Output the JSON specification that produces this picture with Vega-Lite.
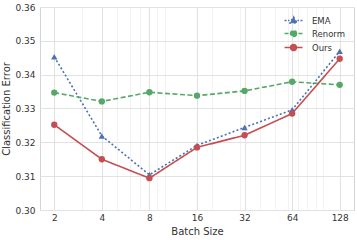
{
  "$schema": "https://vega.github.io/schema/vega-lite/v6.json",
  "width": 314,
  "height": 203,
  "autosize": "none",
  "padding": {"left": 40, "top": 7, "right": 3, "bottom": 30},
  "config": {
    "view": {"stroke": "#d4d4d4", "strokeWidth": 1},
    "font": "DejaVu Sans",
    "axis": {"labelFont": "DejaVu Sans", "titleFont": "DejaVu Sans", "labelColor": "#333333", "titleColor": "#333333", "titleFontWeight": "normal"}
  },
  "data": {"values": [
    {"batch": 2, "method": "EMA", "error": 0.3453},
    {"batch": 4, "method": "EMA", "error": 0.3219},
    {"batch": 8, "method": "EMA", "error": 0.3104},
    {"batch": 16, "method": "EMA", "error": 0.3191},
    {"batch": 32, "method": "EMA", "error": 0.3244},
    {"batch": 64, "method": "EMA", "error": 0.3296},
    {"batch": 128, "method": "EMA", "error": 0.3469},
    {"batch": 2, "method": "Renorm", "error": 0.3347},
    {"batch": 4, "method": "Renorm", "error": 0.3321},
    {"batch": 8, "method": "Renorm", "error": 0.3348},
    {"batch": 16, "method": "Renorm", "error": 0.3338},
    {"batch": 32, "method": "Renorm", "error": 0.3352},
    {"batch": 64, "method": "Renorm", "error": 0.3379},
    {"batch": 128, "method": "Renorm", "error": 0.3370},
    {"batch": 2, "method": "Ours", "error": 0.3252},
    {"batch": 4, "method": "Ours", "error": 0.3150},
    {"batch": 8, "method": "Ours", "error": 0.3094},
    {"batch": 16, "method": "Ours", "error": 0.3185},
    {"batch": 32, "method": "Ours", "error": 0.3221},
    {"batch": 64, "method": "Ours", "error": 0.3285},
    {"batch": 128, "method": "Ours", "error": 0.3447}
  ]},
  "resolve": {"axis": {"x": "independent"}},
  "encoding": {
    "y": {"field": "error", "type": "quantitative",
      "scale": {"domain": [0.30, 0.36], "nice": false, "zero": false},
      "axis": {"orient": "left", "values": [0.30,0.31,0.32,0.33,0.34,0.35,0.36], "format": ".2f", "labelFontSize": 9, "labelPadding": 5, "labelOverlap": false, "labelFlush": false, "ticks": false, "domain": false, "grid": true, "gridColor": "#e2e2e2", "gridWidth": 1.1, "title": "Classification Error", "titleFontSize": 10, "titlePadding": 3}},
    "color": {"field": "method", "type": "nominal",
      "scale": {"domain": ["EMA", "Renorm", "Ours"], "range": ["#4c72b0", "#55a868", "#c44e52"]},
      "legend": {"title": null, "orient": "top-right", "offset": 9, "padding": 0, "labelFontSize": 8.5, "labelColor": "#333333", "symbolSize": 49, "symbolStrokeWidth": 1.5, "rowPadding": 1, "labelOffset": 14,
        "encode": {"symbols": {"update": {
          "shape": {"signal": "datum.value === 'EMA' ? 'M-2.57,0H-2.0M-1.57,0H-1.14M0,-1.05L1.0,0.7L-1.0,0.7Z M1.14,0H1.57M2.0,0H2.57' : (datum.value === 'Renorm' ? 'M-2.57,0H-1.43M0.86,0A0.86,0.86 0 1,1 -0.86,0A0.86,0.86 0 1,1 0.86,0Z M1.43,0H2.57' : 'M-2.57,0H2.57M0.86,0A0.86,0.86 0 1,1 -0.86,0A0.86,0.86 0 1,1 0.86,0Z')"},
          "fill": {"scale": "color", "field": "value"},
          "stroke": {"scale": "color", "field": "value"},
          "strokeWidth": {"value": 1.5},
          "opacity": {"value": 1}
        }}}}}
  },
  "layer": [
    {
      "mark": {"type": "line", "strokeWidth": 1.6},
      "encoding": {
        "x": {"field": "batch", "type": "quantitative",
          "scale": {"type": "log", "base": 2, "domain": [1.625, 157.6], "nice": false},
          "axis": {"orient": "bottom", "values": [3,5,6,7,9,10,20,30,40,50,60,70,80,90,100], "labels": false, "ticks": false, "domain": false, "grid": true, "gridColor": "#efefef", "gridWidth": 0.8, "title": null}},
        "strokeDash": {"field": "method", "type": "nominal",
          "scale": {"domain": ["EMA", "Renorm", "Ours"], "range": [[2, 2.2], [5, 2.5], [1, 0]]},
          "legend": null}
      }
    },
    {
      "mark": {"type": "point", "filled": true, "opacity": 1, "size": 40},
      "encoding": {
        "x": {"field": "batch", "type": "quantitative",
          "axis": {"orient": "bottom", "values": [2,4,8,16,32,64,128], "format": "d", "labelFontSize": 9, "labelPadding": 3, "ticks": false, "domain": false, "grid": true, "gridColor": "#e2e2e2", "gridWidth": 1.1, "title": "Batch Size", "titleFontSize": 10, "titlePadding": 4}},
        "shape": {"condition": {"test": "datum.method === 'EMA'", "value": "triangle-up"}, "value": "circle"}
      }
    }
  ]
}
